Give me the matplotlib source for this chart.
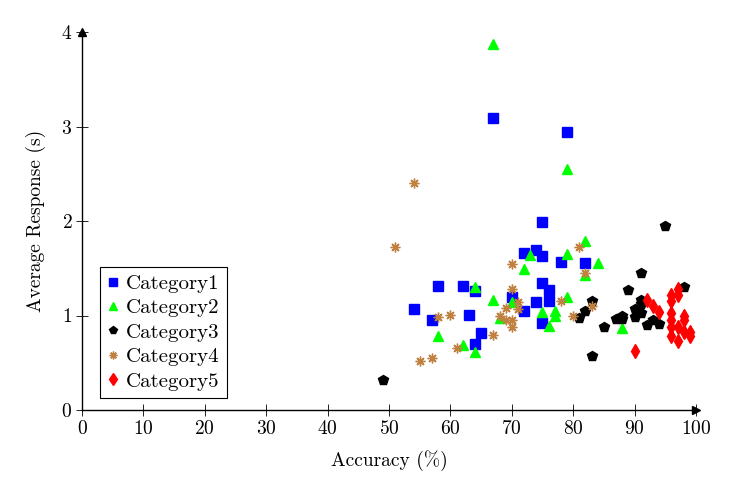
import matplotlib
matplotlib.use("Agg")
import matplotlib.pyplot as plt

plt.rcParams['font.family'] = ['cmr10', 'DejaVu Serif']
plt.rcParams['axes.formatter.use_mathtext'] = True
plt.rcParams['mathtext.fontset'] = 'cm'

# accuracy (%), average response (s) per category
cat1_x = [67, 79, 75, 72, 74, 75, 78, 82, 75, 76, 74, 76, 75, 58, 62, 64, 70, 72, 54, 57, 63, 65, 64]
cat1_y = [3.09, 2.94, 1.99, 1.66, 1.69, 1.63, 1.57, 1.56, 1.34, 1.27, 1.14, 1.15, 0.92,
          1.31, 1.31, 1.26, 1.20, 1.05, 1.07, 0.95, 1.01, 0.81, 0.70]

cat2_x = [67, 79, 73, 72, 82, 79, 84, 82, 64, 67, 70, 79, 75, 77, 77, 76, 68, 58, 62, 64, 88]
cat2_y = [3.87, 2.55, 1.64, 1.49, 1.79, 1.65, 1.56, 1.43, 1.30, 1.16, 1.14, 1.20, 1.04,
          1.05, 0.99, 0.89, 0.97, 0.78, 0.69, 0.61, 0.87]

cat3_x = [49, 95, 91, 89, 98, 83, 82, 81, 85, 87, 88, 88, 90, 90, 91, 91, 91, 92, 93, 94, 83]
cat3_y = [0.32, 1.95, 1.45, 1.27, 1.30, 1.15, 1.05, 0.97, 0.88, 0.96, 1.00, 0.96, 1.07,
          0.98, 1.16, 1.12, 1.03, 0.90, 0.95, 0.91, 0.57]

cat4_x = [54, 51, 70, 81, 82, 70, 71, 69, 71, 58, 60, 68, 69, 70, 70, 67, 61, 57, 55, 78, 80, 83]
cat4_y = [2.40, 1.72, 1.54, 1.73, 1.45, 1.28, 1.14, 1.08, 1.07, 0.98, 1.01, 1.00, 0.95,
          0.95, 0.88, 0.79, 0.66, 0.55, 0.52, 1.15, 1.00, 1.10]

cat5_x = [97, 97, 96, 96, 92, 93, 94, 96, 98, 98, 96, 97, 96, 98, 99, 99, 96, 97, 90]
cat5_y = [1.28, 1.22, 1.22, 1.15, 1.16, 1.10, 1.04, 1.03, 0.99, 0.95, 0.95, 0.88, 0.88,
          0.83, 0.83, 0.78, 0.78, 0.73, 0.62]

fig = plt.figure(figsize=(7.37, 4.95), dpi=100)
ax = fig.add_axes([82 / 737, 1 - 410 / 495, 614 / 737, 378 / 495])

ax.plot(cat1_x, cat1_y, ls='none', marker='s', ms=7.2, color='#0000ff', mec='#0000ff', label='Category1')
ax.plot(cat2_x, cat2_y, ls='none', marker='^', ms=7.0, color='#00ff00', mec='#00ff00', label='Category2')
ax.plot(cat3_x, cat3_y, ls='none', marker='p', ms=7.0, color='black', label='Category3')
ax.plot(cat4_x, cat4_y, ls='none', marker=(8, 2, 0), ms=7.0, mew=1.0, color='#bf8040', label='Category4')
ax.plot(cat5_x, cat5_y, ls='none', marker='d', ms=7.5, color='#ff0000', mec='#ff0000', label='Category5')

ax.set_xlim(0, 100)
ax.set_ylim(0, 4)
ax.set_xticks(range(0, 101, 10))
ax.set_yticks(range(0, 5))
ax.tick_params(direction='inout', length=8, width=0.6, labelsize=14, pad=3)

for s in ['top', 'right']:
    ax.spines[s].set_visible(False)
for s in ['left', 'bottom']:
    ax.spines[s].set_linewidth(1.0)

# arrow heads on axis ends
ax.plot(1, 0, marker='>', ms=6, color='black', transform=ax.transAxes, clip_on=False)
ax.plot(0, 1, marker='^', ms=6, color='black', transform=ax.transAxes, clip_on=False)

ax.set_xlabel('Accuracy (%)', fontsize=14, labelpad=9)
ax.set_ylabel('Average Response (s)', fontsize=14, labelpad=11)

leg = ax.legend(loc='lower left', bbox_to_anchor=(0.029, 0.032), borderaxespad=0,
                fontsize=15, fancybox=False, edgecolor='black', framealpha=1,
                handlelength=0.6, handletextpad=0.3, labelspacing=0.28,
                borderpad=0.35, markerscale=0.8)
leg.get_frame().set_linewidth(0.8)

fig.savefig('out.png', dpi=100)
